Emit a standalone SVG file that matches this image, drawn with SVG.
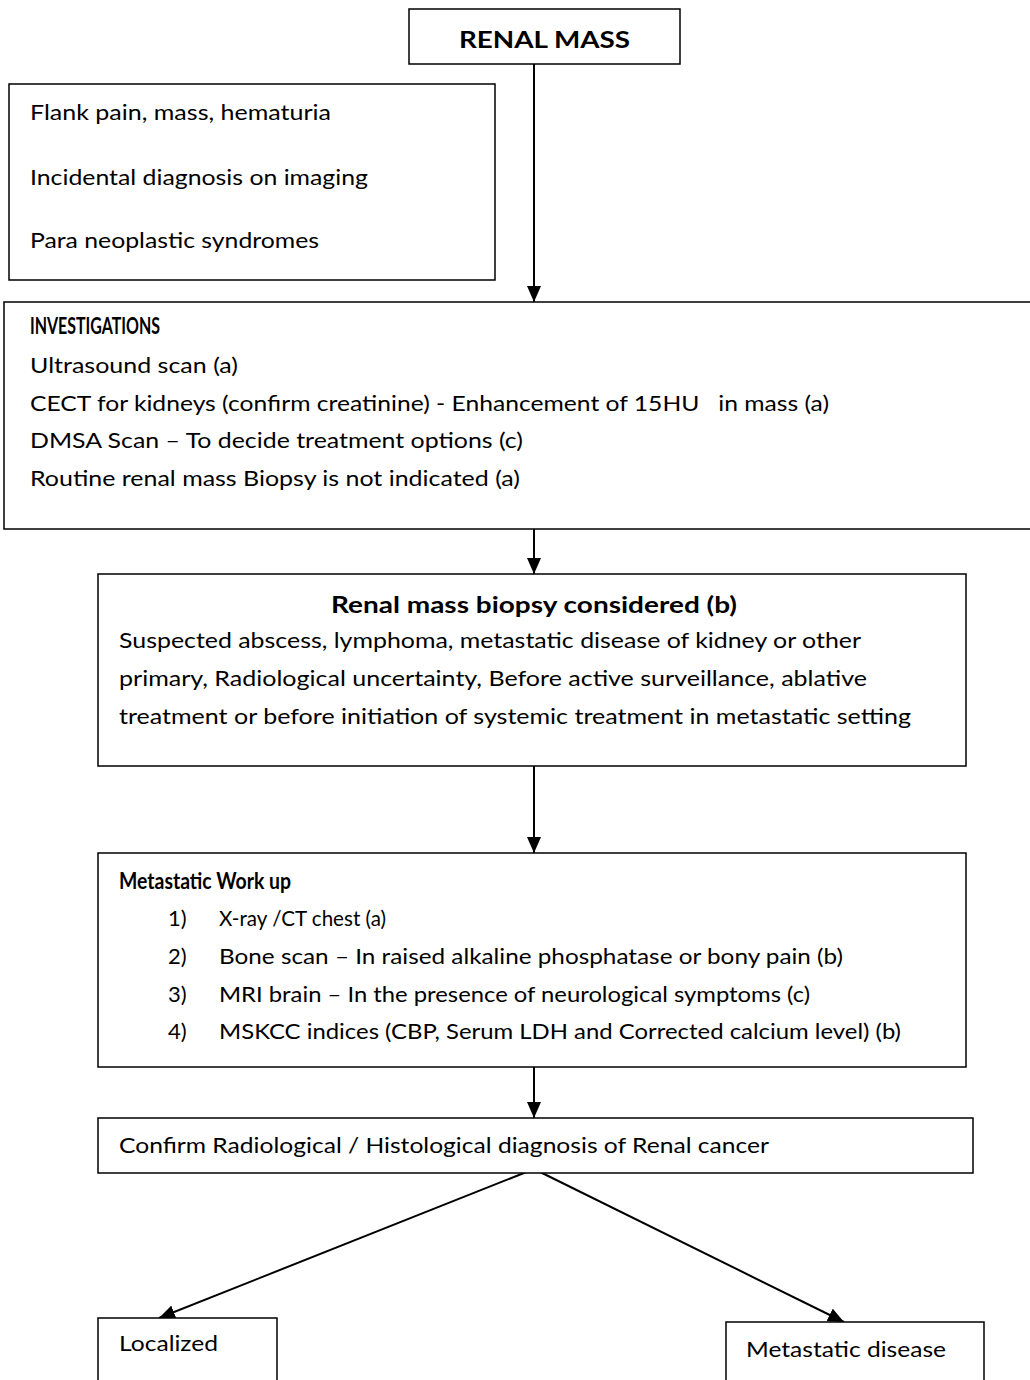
<svg xmlns="http://www.w3.org/2000/svg" width="1030" height="1380" viewBox="0 0 1030 1380">
<style>
.box{fill:#fff;stroke:#000;stroke-width:1.5}
.t{font-family:Lato,"Liberation Sans",Arial,sans-serif;font-size:22px;fill:#000}
.b{font-weight:bold}
.c{stroke:#000;stroke-width:2;fill:none}
</style>
<defs>
<marker id="ah" markerUnits="userSpaceOnUse" markerWidth="16" markerHeight="14" refX="16" refY="7" orient="auto">
<path d="M0,0 L16,7 L0,14 z" fill="#000"/>
</marker>
</defs>
<rect width="1030" height="1380" fill="#fff"/>
<g id="connectors">
<line class="c" x1="534" y1="64" x2="534" y2="302" marker-end="url(#ah)"/>
<line class="c" x1="534" y1="529" x2="534" y2="574" marker-end="url(#ah)"/>
<line class="c" x1="534" y1="766" x2="534" y2="853" marker-end="url(#ah)"/>
<line class="c" x1="534" y1="1047" x2="534" y2="1118" marker-end="url(#ah)"/>
<line class="c" x1="534" y1="1169" x2="159" y2="1318" marker-end="url(#ah)"/>
<line class="c" x1="534" y1="1169" x2="844" y2="1322" marker-end="url(#ah)"/>
</g>
<g id="renal-mass">
<rect class="box" x="409" y="9" width="271" height="55"/>
<text class="t b" x="459" y="48" font-size="25" textLength="171" lengthAdjust="spacingAndGlyphs">RENAL MASS</text>
</g>
<g id="presentation">
<rect class="box" x="9" y="84" width="486" height="196"/>
<text class="t" x="30" y="120" textLength="301" lengthAdjust="spacingAndGlyphs">Flank pain, mass, hematuria</text>
<text class="t" x="30" y="185" textLength="338" lengthAdjust="spacingAndGlyphs">Incidental diagnosis on imaging</text>
<text class="t" x="30" y="248" textLength="289" lengthAdjust="spacingAndGlyphs">Para neoplastic syndromes</text>
</g>
<g id="investigations">
<rect class="box" x="4" y="302" width="1030" height="227"/>
<text class="t b" x="30" y="334" textLength="130" lengthAdjust="spacingAndGlyphs">INVESTIGATIONS</text>
<text class="t" x="30" y="373" textLength="208" lengthAdjust="spacingAndGlyphs">Ultrasound scan (a)</text>
<text class="t" x="30" y="411" textLength="799" lengthAdjust="spacingAndGlyphs" xml:space="preserve">CECT for kidneys (confirm creatinine) - Enhancement of 15HU   in mass (a)</text>
<text class="t" x="30" y="448" textLength="493" lengthAdjust="spacingAndGlyphs">DMSA Scan – To decide treatment options (c)</text>
<text class="t" x="30" y="486" textLength="490" lengthAdjust="spacingAndGlyphs">Routine renal mass Biopsy is not indicated (a)</text>
</g>
<g id="biopsy">
<rect class="box" x="98" y="574" width="868" height="192"/>
<text class="t b" x="331" y="613" textLength="406" lengthAdjust="spacingAndGlyphs">Renal mass biopsy considered (b)</text>
<text class="t" x="119" y="648" textLength="742" lengthAdjust="spacingAndGlyphs">Suspected abscess, lymphoma, metastatic disease of kidney or other</text>
<text class="t" x="119" y="686" textLength="748" lengthAdjust="spacingAndGlyphs">primary, Radiological uncertainty, Before active surveillance, ablative</text>
<text class="t" x="119" y="724" textLength="792" lengthAdjust="spacingAndGlyphs">treatment or before initiation of systemic treatment in metastatic setting</text>
</g>
<g id="metastatic-workup">
<rect class="box" x="98" y="853" width="868" height="214"/>
<text class="t b" x="119" y="889" textLength="172" lengthAdjust="spacingAndGlyphs">Metastatic Work up</text>
<text class="t" x="168" y="926">1)</text>
<text class="t" x="219" y="926" textLength="167" lengthAdjust="spacingAndGlyphs">X-ray /CT chest (a)</text>
<text class="t" x="168" y="964">2)</text>
<text class="t" x="219" y="964" textLength="624" lengthAdjust="spacingAndGlyphs">Bone scan – In raised alkaline phosphatase or bony pain (b)</text>
<text class="t" x="168" y="1002">3)</text>
<text class="t" x="219" y="1002" textLength="591" lengthAdjust="spacingAndGlyphs">MRI brain – In the presence of neurological symptoms (c)</text>
<text class="t" x="168" y="1039">4)</text>
<text class="t" x="219" y="1039" textLength="682" lengthAdjust="spacingAndGlyphs">MSKCC indices (CBP, Serum LDH and Corrected calcium level) (b)</text>
</g>
<g id="confirm">
<rect class="box" x="98" y="1118" width="875" height="55"/>
<text class="t" x="119" y="1153" textLength="650" lengthAdjust="spacingAndGlyphs">Confirm Radiological / Histological diagnosis of Renal cancer</text>
</g>
<g id="localized">
<rect class="box" x="98" y="1318" width="179" height="80"/>
<text class="t" x="119" y="1351" textLength="99" lengthAdjust="spacingAndGlyphs">Localized</text>
</g>
<g id="metastatic-disease">
<rect class="box" x="726" y="1322" width="258" height="80"/>
<text class="t" x="746" y="1357" textLength="200" lengthAdjust="spacingAndGlyphs">Metastatic disease</text>
</g>
</svg>
